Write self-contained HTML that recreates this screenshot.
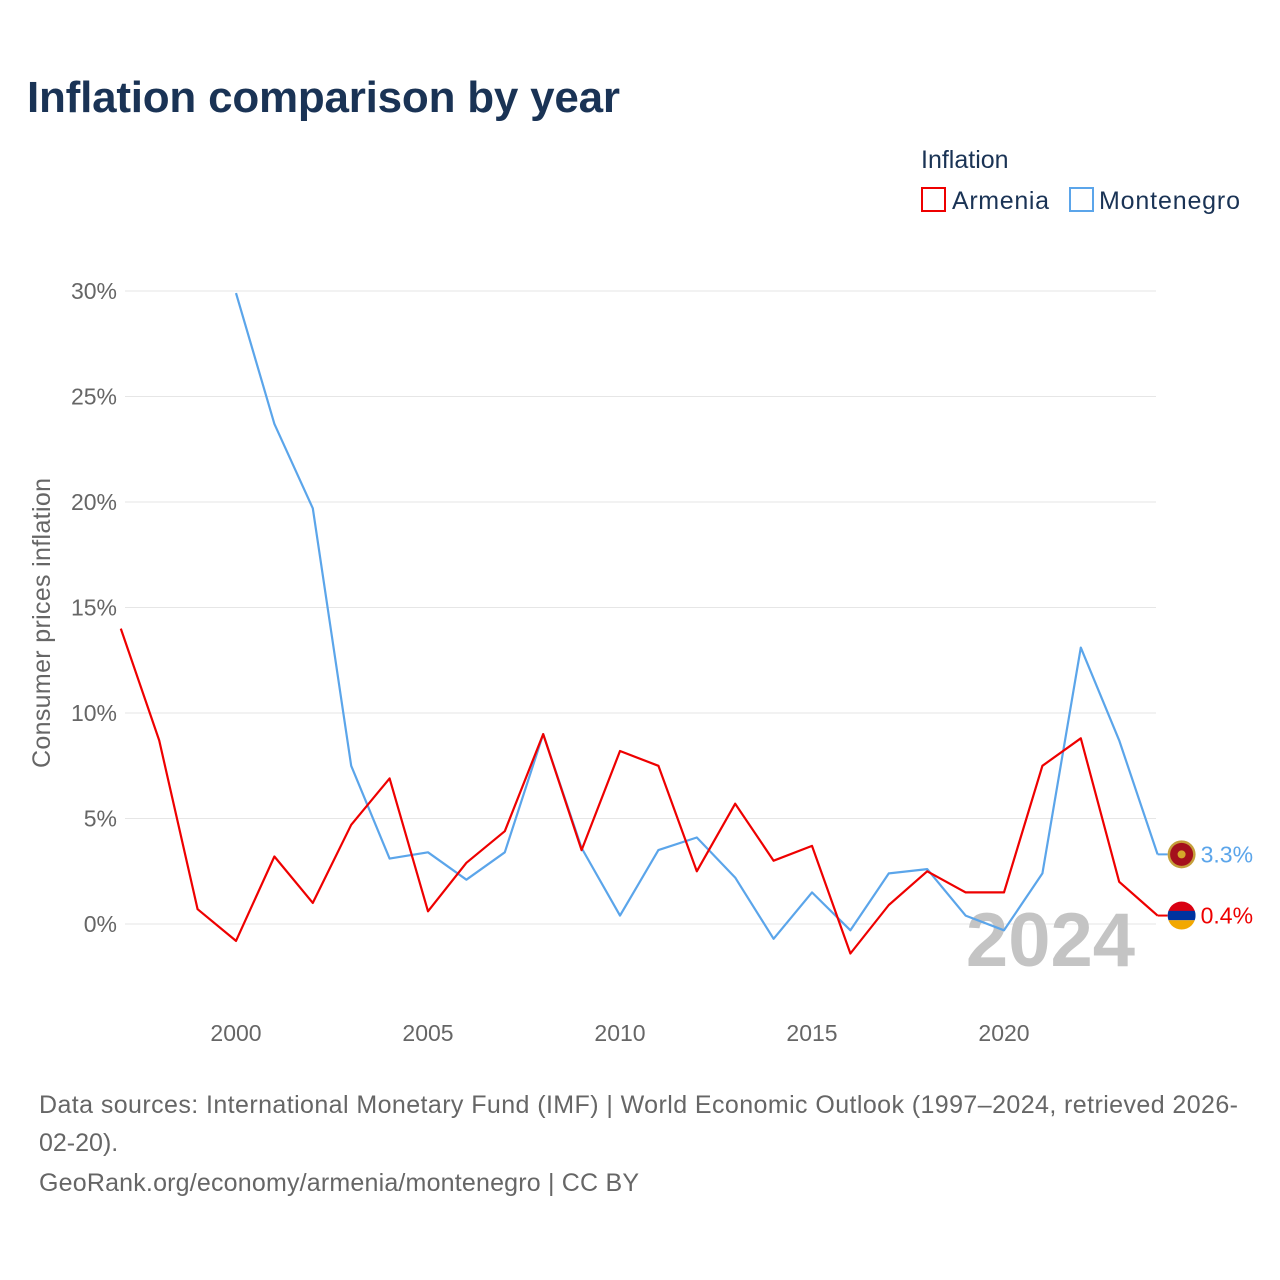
<!DOCTYPE html>
<html><head><meta charset="utf-8"><style>
html,body{margin:0;padding:0;background:#fff;}
body{width:1280px;height:1280px;position:relative;font-family:"Liberation Sans",sans-serif;overflow:hidden;}
</style></head><body>
<svg id="chart" width="1280" height="1280" xmlns="http://www.w3.org/2000/svg" style="position:absolute;left:0;top:0;font-family:'Liberation Sans',sans-serif">
<text x="27" y="112" font-size="44" font-weight="bold" fill="#1a3355" textLength="593">Inflation comparison by year</text>
<text x="921" y="168" font-size="25" fill="#1a3355">Inflation</text>
<g><rect x="922" y="188" width="23" height="23" fill="none" stroke="#ee0000" stroke-width="2"/><text x="952" y="209" font-size="25" fill="#1a3355" textLength="97">Armenia</text></g>
<g><rect x="1070" y="188" width="23" height="23" fill="none" stroke="#5ba5ea" stroke-width="2"/><text x="1099" y="209" font-size="25" fill="#1a3355" textLength="141">Montenegro</text></g>
<text transform="translate(50,623) rotate(-90)" text-anchor="middle" font-size="25" fill="#666" textLength="290">Consumer prices inflation</text>
<g id="grid"></g><g id="xt"></g>
<text x="1135" y="966" text-anchor="end" font-size="76" font-weight="bold" fill="#c4c4c4">2024</text>
<g id="lines"></g>
<text x="39" y="1113" font-size="25" fill="#666" textLength="1199">Data sources: International Monetary Fund (IMF) | World Economic Outlook (1997–2024, retrieved 2026-</text>
<text x="39" y="1151" font-size="25" fill="#666">02-20).</text>
<text x="39" y="1191" font-size="25" fill="#666" textLength="600">GeoRank.org/economy/armenia/montenegro | CC BY</text>
</svg>
<script>
const years=[1997,1998,1999,2000,2001,2002,2003,2004,2005,2006,2007,2008,2009,2010,2011,2012,2013,2014,2015,2016,2017,2018,2019,2020,2021,2022,2023,2024];
const armenia=[14.0,8.7,0.7,-0.8,3.2,1.0,4.7,6.9,0.6,2.9,4.4,9.0,3.5,8.2,7.5,2.5,5.7,3.0,3.7,-1.4,0.9,2.5,1.5,1.5,7.5,8.8,2.0,0.4];
const montenegro=[null,null,null,29.9,23.7,19.7,7.5,3.1,3.4,2.1,3.4,9.0,3.6,0.4,3.5,4.1,2.2,-0.7,1.5,-0.3,2.4,2.6,0.4,-0.3,2.4,13.1,8.7,3.3];
const yTicks=[0,5,10,15,20,25,30];
const xTicks=[2000,2005,2010,2015,2020];
const X=y=>120.8+(y-1997)*38.4, Y=v=>924-v*21.1;
const NS="http://www.w3.org/2000/svg";
function mk(t,a,p){const e=document.createElementNS(NS,t);for(const k in a)e.setAttribute(k,a[k]);p.appendChild(e);return e;}
const grid=document.getElementById('grid'),xt=document.getElementById('xt'),lines=document.getElementById('lines');
yTicks.forEach(v=>{const l=mk('line',{x1:125,x2:1156,y1:Y(v),y2:Y(v),stroke:'#e6e6e6'},grid);


const t=mk('text',{x:117,y:Y(v)+8,'text-anchor':'end','font-size':23,fill:'#666'},grid);t.textContent=v+'%';

});
xTicks.forEach(v=>{const t=mk('text',{x:X(v),y:1041,'text-anchor':'middle','font-size':23,fill:'#666'},xt);t.textContent=v;

});
function series(vals,color,name,label,flag){
let d='';vals.forEach((v,i)=>{if(v==null)return;d+=(d?'L':'M')+X(years[i]).toFixed(1)+','+Y(v).toFixed(1);});
const p=mk('path',{d:d,fill:'none',stroke:color,'stroke-width':2.2,'stroke-linejoin':'round'},lines);


const last=vals[vals.length-1],lx=X(2024),ly=Y(last);
mk('line',{x1:lx,x2:lx+10,y1:ly,y2:ly,stroke:color,'stroke-width':2},lines);
const g=mk('g',{},lines);


const cx=lx+24;
if(flag==='am'){
 mk('clipPath',{id:'clipam'},g);
 const cp=g.lastChild;mk('circle',{cx:cx,cy:ly,r:14},cp);
 const gg=mk('g',{'clip-path':'url(#clipam)'},g);
 mk('rect',{x:cx-14,y:ly-14,width:28,height:10,fill:'#d90012'},gg);
 mk('rect',{x:cx-14,y:ly-4.7,width:28,height:9.4,fill:'#0033a0'},gg);
 mk('rect',{x:cx-14,y:ly+4.7,width:28,height:10,fill:'#f2a800'},gg);
}else{
 mk('circle',{cx:cx,cy:ly,r:14,fill:'#c59f3a'},g);
 mk('circle',{cx:cx,cy:ly,r:11.5,fill:'#a4101c'},g);
 mk('circle',{cx:cx,cy:ly,r:4,fill:'#d4a92a'},g);
}
const t=mk('text',{x:lx+43,y:ly+8,'font-size':23,fill:color},lines);t.textContent=label;

}
series(montenegro,'#5ba5ea','montenegro','3.3%','me');
series(armenia,'#ee0000','armenia','0.4%','am');
</script>
</body></html>
